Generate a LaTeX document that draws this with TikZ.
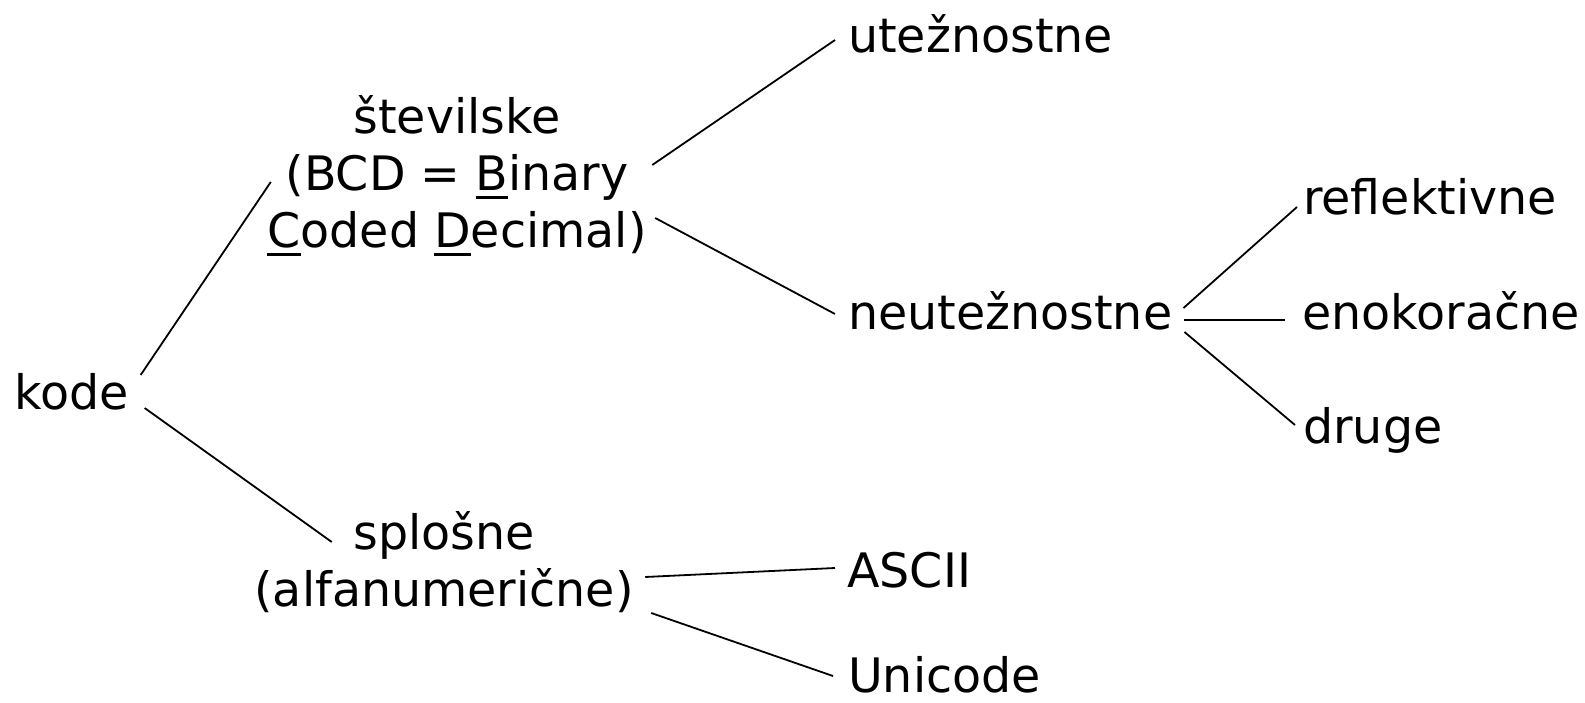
\documentclass[tikz,border=0pt]{standalone}
\usepackage{fontspec}
\setmainfont{DejaVu Sans}
\usetikzlibrary{calc}
\newcommand\ulchar[1]{{\setbox0\hbox{#1}\rlap{\rule[-8pt]{\wd0}{2.6pt}}\box0}}
\tikzset{
  lbl/.style={inner sep=0pt, font=\fontsize{47.5}{57}\selectfont, anchor=base west},
  blk/.style={inner sep=0pt, align=center, font=\fontsize{47.5}{57}\selectfont},
  edge/.style={line width=1.8pt}
}
\begin{document}
\begin{tikzpicture}[x=1pt,y=-1pt]
\useasboundingbox (0,0) rectangle (1585,703);
\node[lbl] (kode) at (14,409) {kode};
\node[blk] (stev) at (457,176) {številske\\(BCD = \ulchar{B}inary\\\ulchar{C}oded \ulchar{D}ecimal)};
\node[blk] (splos) at (444,562) {splošne\\(alfanumerične)};
\node[lbl] (utez) at (848,53) {utežnostne};
\node[lbl] (neutez) at (848,330) {neutežnostne};
\node[lbl] (reflek) at (1303,215) {reflektivne};
\node[lbl] (enok) at (1302,330) {enokoračne};
\node[lbl] (druge) at (1303,443) {druge};
\node[lbl] (ascii) at (847,587) {ASCII};
\node[lbl] (unicode) at (848,692) {Unicode};

\draw[edge] ([shift={(12,-34)}]kode.base east) -- ([shift={(3.5,6)}]stev.west);
\draw[edge] ([shift={(16,-1)}]kode.base east) -- ([shift={(77.5,-20)}]splos.west);
\draw[edge] ([shift={(5.5,-11)}]stev.east) -- ([shift={(-13,-13)}]utez.base west);
\draw[edge] ([shift={(8.5,42)}]stev.east) -- ([shift={(-13,-16)}]neutez.base west);
\draw[edge] ([shift={(11,-22)}]neutez.base east) -- ([shift={(-6,-8)}]reflek.base west);
\draw[edge] ([shift={(12,-10)}]neutez.base east) -- ([shift={(-17,-10)}]enok.base west);
\draw[edge] ([shift={(12,2)}]neutez.base east) -- ([shift={(-8,-18)}]druge.base west);
\draw[edge] ([shift={(11.5,15)}]splos.east) -- ([shift={(-12,-19)}]ascii.base west);
\draw[edge] ([shift={(17.5,51)}]splos.east) -- ([shift={(-15,-16)}]unicode.base west);
\end{tikzpicture}
\end{document}
